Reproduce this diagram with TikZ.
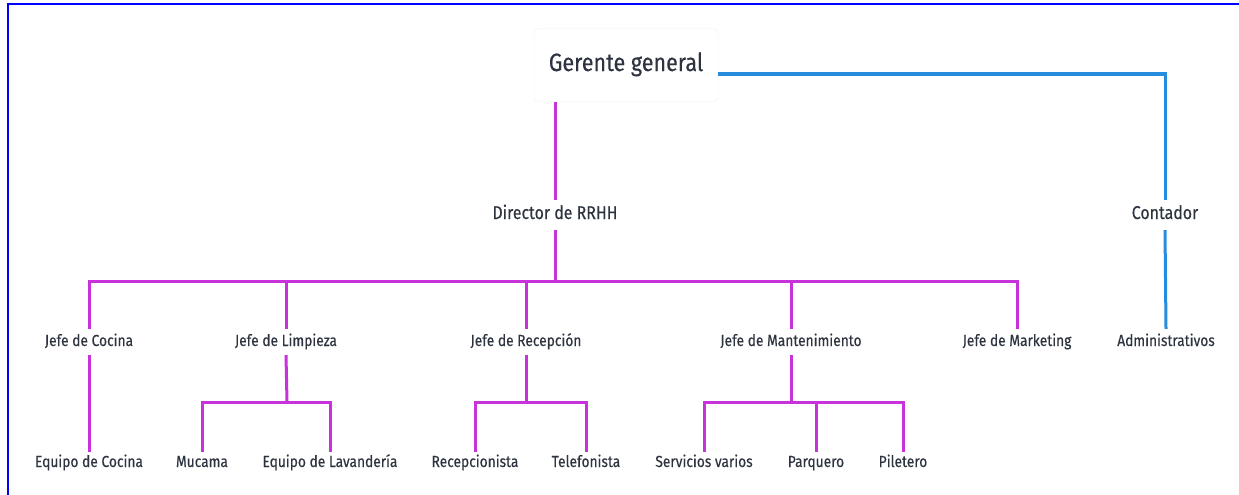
\documentclass[tikz,border=0pt]{standalone}
\usepackage{fontspec}
\setmainfont{Fira Sans}[FakeStretch=0.86, FakeBold=0.35]
\usetikzlibrary{backgrounds}
\definecolor{rrhh}{RGB}{200,50,218}
\definecolor{conta}{RGB}{38,140,222}
\definecolor{ink}{RGB}{45,52,64}

\begin{document}
\begin{tikzpicture}[x=1pt,y=-1pt]
\useasboundingbox (0,0) rectangle (1239,495);
\draw[blue, line width=2pt] (7.5,495) -- (7.5,4.5) -- (1239,4.5);

\begin{scope}
\tikzstyle{every node}=[text=ink, inner sep=0pt, text height=11pt, text depth=3pt, font=\fontsize{16}{19}\selectfont];
\tikzstyle{line}=[line width=3pt, rrhh];
\tikzstyle{cline}=[line width=3pt, conta];

% top
\draw (626,65) node[draw=black!5, fill=white, rounded corners=4pt, minimum width=184pt, minimum height=73pt, text height=16pt, text depth=4pt, font=\fontsize{25}{28}\selectfont] (gg) {Gerente general};
\draw (555,215) node[minimum height=30pt, font=\fontsize{18.5}{21}\selectfont] (dir) {Director de RRHH};
\draw (1165,215) node[minimum height=30pt, font=\fontsize{18.5}{21}\selectfont] (cont) {Contador};
\draw (1166,342) node[minimum height=26pt] (adm) {Administrativos};

% jefes
\draw (89,342) node[minimum height=26pt] (jc) {Jefe de Cocina};
\draw (286,342) node[minimum height=26pt] (jl) {Jefe de Limpieza};
\draw (526,342) node[minimum height=26pt] (jr) {Jefe de Recepción};
\draw (791,342) node[minimum height=26pt] (jm) {Jefe de Mantenimiento};
\draw (1017,342) node[minimum height=26pt] (jk) {Jefe de Marketing};

% equipos
\draw (89,463) node[minimum height=22pt] (ec) {Equipo de Cocina};
\draw (202,463) node[minimum height=22pt] (mu) {Mucama};
\draw (330,463) node[minimum height=22pt] (el) {Equipo de Lavandería};
\draw (475,463) node[minimum height=22pt] (re) {Recepcionista};
\draw (586,463) node[minimum height=22pt] (te) {Telefonista};
\draw (704,463) node[minimum height=22pt] (sv) {Servicios varios};
\draw (816,463) node[minimum height=22pt] (pa) {Parquero};
\draw (903,463) node[minimum height=22pt] (pi) {Piletero};

\coordinate (b1) at (555,281);
\coordinate (bl) at (287,402);
\coordinate (br) at (526,402);
\coordinate (bm) at (791,402);

% lineas
\draw[cline] ([yshift=-9pt]gg.east) -| (cont.north);
\draw[cline] (cont.south) -- (adm.north);
\draw[line] (gg.south -| dir.north) -- (dir.north);
\draw[line] (dir.south) -- (b1);
\draw[line] (jc.north) |- (b1) -| (jk.north);
\draw[line] (b1 -| jl.north) -- (jl.north)
(b1 -| jr.north) -- (jr.north)
(b1 -| jm.north) -- (jm.north);
\draw[line] (jc.south) -- (ec.north);
\draw[line] (jl.south) -- (bl);
\draw[line] (mu.north) |- (bl) -| (el.north);
\draw[line] (jr.south) -- (br);
\draw[line] (re.north) |- (br) -| (te.north);
\draw[line] (jm.south) -- (bm);
\draw[line] (sv.north) |- (bm) -| (pi.north);
\draw[line] (bm -| pa.north) -- (pa.north);
\end{scope}
\end{tikzpicture}
\end{document}
